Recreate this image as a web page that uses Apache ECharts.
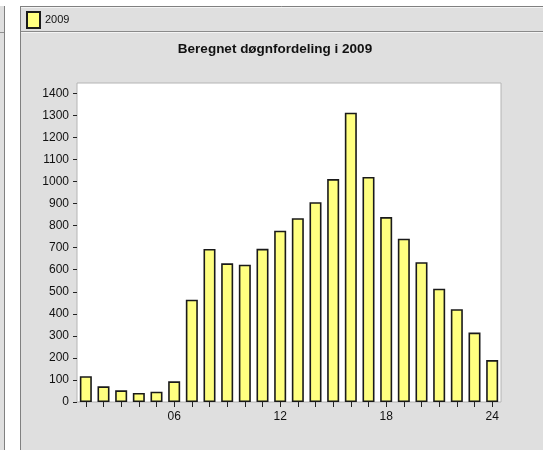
<!DOCTYPE html>
<html>
<head>
<meta charset="utf-8">
<title>Beregnet døgnfordeling i 2009</title>
<script src="https://cdn.jsdelivr.net/npm/echarts@6/dist/echarts.min.js"></script>
<style>
  html, body { margin: 0; padding: 0; background: #fff; }
  #chart { width: 543px; height: 450px; }
</style>
</head>
<body>
<div id="chart"></div>
<script>
// hours of the day
const hours = ['01', '02', '03', '04', '05', '06', '07', '08', '09', '10', '11', '12',
  '13', '14', '15', '16', '17', '18', '19', '20', '21', '22', '23', '24'];
// estimated traffic per hour, 2009
const values2009 = [117, 71, 53, 41, 47, 94, 464, 694, 629, 623, 695, 777,
  834, 906, 1011, 1312, 1021, 839, 741, 634, 514, 421, 315, 190];
const yTicks = [0, 100, 200, 300, 400, 500, 600, 700, 800, 900, 1000, 1100, 1200, 1300, 1400];
const shownHours = ['06', '12', '18', '24'];

const font = "'Liberation Sans', Arial, sans-serif";
const panel = '#dfdfdf';

const chart = echarts.init(document.getElementById('chart'));

chart.setOption({
  backgroundColor: '#fff',
  animation: false,
  graphic: [
    // left neighbour panel strip
    { type: 'rect', silent: true, z: -10, shape: { x: 0, y: 6, width: 4, height: 444 },
      style: { fill: panel } },
    { type: 'line', silent: true, z: -9, shape: { x1: 4.5, y1: 6, x2: 4.5, y2: 450 },
      style: { stroke: '#808080', lineWidth: 1 } },
    { type: 'line', silent: true, z: -9, shape: { x1: 0, y1: 32.5, x2: 4, y2: 32.5 },
      style: { stroke: '#909090', lineWidth: 1 } },
    // main panel
    { type: 'rect', silent: true, z: -10, shape: { x: 20, y: 6, width: 523, height: 444 },
      style: { fill: panel } },
    { type: 'line', silent: true, z: -9, shape: { x1: 20, y1: 6.5, x2: 543, y2: 6.5 },
      style: { stroke: '#808080', lineWidth: 1 } },
    { type: 'line', silent: true, z: -9, shape: { x1: 20.5, y1: 6, x2: 20.5, y2: 450 },
      style: { stroke: '#808080', lineWidth: 1 } },
    { type: 'line', silent: true, z: -9, shape: { x1: 21, y1: 7.5, x2: 543, y2: 7.5 },
      style: { stroke: '#f4f4f4', lineWidth: 1 } },
    { type: 'line', silent: true, z: -9, shape: { x1: 21, y1: 31.5, x2: 543, y2: 31.5 },
      style: { stroke: '#8a8a8a', lineWidth: 1 } },
    { type: 'line', silent: true, z: -9, shape: { x1: 21, y1: 32.5, x2: 543, y2: 32.5 },
      style: { stroke: '#f4f4f4', lineWidth: 1 } }
  ],
  title: {
    text: 'Beregnet døgnfordeling i 2009',
    left: 270,
    top: 37,
    textAlign: 'center',
    textStyle: { fontFamily: font, fontSize: 13.5, fontWeight: 'bold', color: '#111' }
  },
  legend: {
    left: 21,
    top: 6,
    icon: 'rect',
    itemWidth: 13,
    itemHeight: 16,
    textStyle: { fontFamily: font, fontSize: 11, color: '#111' },
    data: ['2009']
  },
  grid: {
    left: 77,
    right: 42,
    top: 83,
    bottom: 48,
    show: true,
    backgroundColor: '#fff',
    borderColor: '#b4b4b4',
    borderWidth: 1
  },
  xAxis: {
    type: 'category',
    data: hours,
    axisLine: { show: false },
    axisTick: {
      show: true,
      alignWithLabel: true,
      interval: 0,
      length: 5,
      lineStyle: { color: '#222' }
    },
    axisLabel: {
      interval: (i, v) => shownHours.includes(v),
      margin: 9,
      fontFamily: font,
      fontSize: 12,
      color: '#111'
    }
  },
  yAxis: {
    type: 'value',
    min: 0,
    max: 1447,
    interval: 100,
    splitLine: { show: false },
    axisLine: { show: false },
    axisTick: { show: true, length: 4, lineStyle: { color: '#222' }, customValues: yTicks },
    axisLabel: {
      margin: 8,
      fontFamily: font,
      fontSize: 12,
      color: '#111',
      customValues: yTicks,
      formatter: (v) => String(v)
    }
  },
  series: [{
    name: '2009',
    type: 'bar',
    data: values2009,
    barWidth: '68%',
    itemStyle: {
      color: '#ffff80',
      borderColor: '#1a1a1a',
      borderWidth: 1.6
    }
  }]
});
</script>
</body>
</html>
